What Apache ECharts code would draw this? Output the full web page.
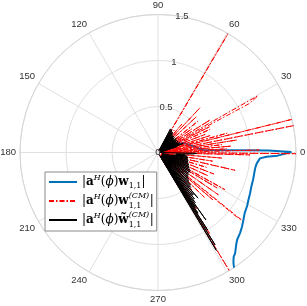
<!DOCTYPE html>
<html>
<head>
<meta charset="utf-8">
<script src="https://cdn.jsdelivr.net/npm/echarts@6/dist/echarts.min.js"></script>
<style>
html,body{margin:0;padding:0;background:#fff;}
#c{width:307px;height:306px;}
</style>
</head>
<body>
<div id="c"></div>
<script>
// Angle tick labels (degrees) and radius ticks
var angleTicks = [0, 30, 60, 90, 120, 150, 180, 210, 240, 270, 300, 330];
var radiusTicks = [0, 0.5, 1, 1.5];

// Series 1: |a^H(phi) w_{1,1}|  (phi in degrees, magnitude)
var bluePhi = [40, 21, 3.2, 1.0, 0.2, -0.6, -1.5, -2.2, -3.3, -4.5, -6.3, -9, -12.2, -16, -20, -24, -27.7, -31, -35, -38, -41.6, -44.5, -47.8, -50, -52.6, -54, -55, -55.8, -56.7];
var blueR   = [0.04, 0.295, 0.49, 1.2, 1.45, 1.45, 1.3, 1.18, 1.11, 1.09, 1.08, 1.07, 1.07, 1.075, 1.08, 1.095, 1.11, 1.13, 1.15, 1.18, 1.22, 1.25, 1.28, 1.32, 1.38, 1.40, 1.43, 1.46, 1.51];

// Series 2: |a^H(phi) w^{(CM)}_{1,1}|
var redPhi = [-61, -58.9, -58.3, -57.5, -56.8, -55.5, -54.5, -52, -51, -48, -47, -44, -43, -40.8, -40, -39.3, -38.9, -38, -35, -34, -31, -30, -29, -28, -25, -24, -21, -20, -17, -16, -13, -12.5, -11.5, -9, -8, -5, -4, -1.5, -1, -0.5, 0.3, 0.8, 1.4, 2, 3, 4, 5, 6, 7, 8, 9, 10, 11.2, 12, 13.9, 14.5, 15.6, 16.5, 18, 19, 21, 22, 24, 25, 26.5, 27.2, 28.2, 29.6, 30.5, 32, 33, 35, 36, 38, 39, 43, 44, 46.8, 47.5, 50, 51, 54, 55, 59.5, 60, 63];
var redR   = [0.03, 1.52, 0.06, 1.05, 0.08, 0.75, 0.05, 0.6, 0.04, 0.55, 0.05, 0.7, 0.05, 0.79, 0.04, 1.12, 1.17, 0.05, 0.8, 0.05, 0.75, 0.04, 0.83, 0.05, 0.6, 0.04, 0.65, 0.05, 0.55, 0.04, 0.86, 0.84, 0.05, 0.6, 0.04, 0.7, 0.03, 1.0, 0.05, 1.5, 1.52, 0.05, 1.1, 0.04, 0.75, 0.05, 0.8, 0.05, 0.7, 0.04, 0.87, 0.05, 1.52, 0.05, 1.52, 0.06, 0.78, 0.05, 0.6, 0.04, 0.55, 0.05, 0.62, 0.04, 0.63, 0.05, 1.13, 1.25, 0.05, 0.67, 0.04, 0.45, 0.04, 0.55, 0.05, 0.57, 0.04, 0.67, 0.05, 0.4, 0.04, 0.3, 0.03, 1.52, 0.04, 0.02];

// Series 3: |a^H(phi) w~^{(CM)}_{1,1}|
var blackPhi = [-62, -59.2, -58.8, -58.3, -57.9, -57.4, -57.0, -56.6, -56.2, -55.7, -55.2, -54.6, -54.1, -53.4, -52.8, -51.9, -51.2, -50.3, -49.6, -48.7, -47.9, -46.9, -46.0, -45.0, -44.0, -43.0, -41.9, -40.8, -39.7, -38.5, -37.4, -36.2, -35.0, -33.8, -32.6, -31.4, -30.2, -29.0, -27.8, -26.6, -25.4, -24.2, -23.0, -21.8, -20.6, -19.4, -18.2, -17.0, -15.8, -14.6, -13.4, -12.2, -11.0, -9.8, -8.6, -7.4, -6.2, -5.6, -4.5, -2.5, -1.2, -0.5, 5, 12,
  16, 17.5, 18.5, 19.8, 20.8, 22, 23, 24.2, 25.2, 26.4, 27.4, 28.6, 29.6, 30.8, 31.8, 33, 34, 35.2, 36.2, 37.4, 38.4, 39.6, 40.6, 41.8, 42.8, 44, 45, 46.2, 47.2, 48.4, 49.4, 50.6, 51.6, 52.8, 53.8, 55, 56, 57.2, 58.2, 59.2, 60.5, 62, 63];
var blackR = [0.02, 1.24, 0.06, 1.18, 0.08, 1.0, 0.06, 0.79, 0.08, 0.72, 0.05, 0.9, 0.07, 0.68, 0.06, 0.64, 0.08, 0.6, 0.05, 0.66, 0.06, 0.52, 0.08, 0.5, 0.06, 0.46, 0.05, 0.44, 0.07, 0.42, 0.06, 0.41, 0.07, 0.4, 0.05, 0.41, 0.07, 0.4, 0.06, 0.38, 0.07, 0.37, 0.05, 0.36, 0.07, 0.35, 0.06, 0.34, 0.09, 0.34, 0.05, 0.33, 0.15, 0.33, 0.18, 0.32, 0.2, 0.3, 0.2, 0.38, 0.42, 0.02, 0.02, 0.03,
  0.02, 0.22, 0.03, 0.29, 0.04, 0.24, 0.03, 0.26, 0.04, 0.23, 0.03, 0.25, 0.04, 0.22, 0.03, 0.24, 0.04, 0.23, 0.03, 0.25, 0.04, 0.22, 0.03, 0.24, 0.04, 0.23, 0.03, 0.25, 0.04, 0.24, 0.03, 0.25, 0.04, 0.26, 0.03, 0.27, 0.04, 0.28, 0.03, 0.29, 0.04, 0.29, 0.02];

var seriesNames = ['|aH(ϕ)w1,1|', '|aH(ϕ)w(CM)1,1|', '|aH(ϕ)w̃(CM)1,1|'];

function toPairs(phi, r) {
  var out = [];
  for (var i = 0; i < phi.length; i++) out.push([r[i], (phi[i] + 360) % 360]);
  return out;
}

var legendRich = {
  '0': '{n||}{b|a}{sup|H}{n|(}{i|ϕ}{n|)}{b|w}{sub|1,1}{n||}',
  '1': '{n||}{b|a}{sup|H}{n|(}{i|ϕ}{n|)}{b|w}{supz|(CM)}{subw|1,1}{n||}',
  '2': '{n||}{b|a}{sup|H}{n|(}{i|ϕ}{n|)}{b|w̃}{supz|(CM)}{subw|1,1}{n||}'
};

var serifFam = 'DejaVu Serif';
var chart = echarts.init(document.getElementById('c'), null, {renderer: 'canvas'});
var gridColor = '#e0e0e0';
var labelFont = {fontFamily: 'Liberation Sans', fontSize: 9.5, color: '#333'};
var LH = 18;

chart.setOption({
  animation: false,
  backgroundColor: '#fff',
  polar: [
    {center: [158, 152.5], radius: 138},
    {center: [158, 152.5], radius: 138}
  ],
  angleAxis: [
    {
      polarIndex: 0, type: 'value', min: 0, max: 360, interval: 30,
      startAngle: 0, clockwise: false,
      axisLine: {lineStyle: {color: '#d6d6d6', width: 1}},
      axisTick: {show: false},
      splitLine: {show: true, lineStyle: {color: gridColor, width: 1}},
      axisLabel: Object.assign({margin: 4, formatter: function (v) {
        return angleTicks.indexOf(v) >= 0 ? String(v) : '';
      }}, labelFont)
    },
    {
      polarIndex: 1, type: 'value', min: 0, max: 360, startAngle: 80, clockwise: false,
      axisLine: {show: false}, axisTick: {show: false}, axisLabel: {show: false}, splitLine: {show: false}
    }
  ],
  radiusAxis: [
    {
      polarIndex: 0, type: 'value', min: 0, max: 1.5, interval: 0.5,
      axisLine: {show: false}, axisTick: {show: false}, axisLabel: {show: false},
      splitLine: {show: true, lineStyle: {color: gridColor, width: 1}}
    },
    {
      polarIndex: 1, type: 'value', min: 0, max: 1.5, interval: 0.5, z: 10,
      axisLine: {show: false}, axisTick: {show: false}, splitLine: {show: false},
      axisLabel: Object.assign({margin: 0, align: 'center', verticalAlign: 'middle', showMinLabel: true, showMaxLabel: true,
        formatter: function (v) { return radiusTicks.indexOf(v) >= 0 ? String(v) : ''; }}, labelFont)
    }
  ],
  legend: {
    orient: 'vertical', left: 45, top: 172,
    itemWidth: 28, itemHeight: 18, itemGap: 1,
    padding: [1, 3, 2, 3],
    backgroundColor: '#fff', borderColor: '#8a8a8a', borderWidth: 1,
    itemStyle: {color: 'rgba(0,0,0,0)', borderWidth: 0, borderColor: 'rgba(0,0,0,0)'},
    data: seriesNames,
    formatter: function (name) { return legendRich[String(seriesNames.indexOf(name))]; },
    textStyle: {
      fontFamily: serifFam, fontSize: 12, color: '#000', lineHeight: LH,
      rich: {
        n: {fontFamily: serifFam, fontSize: 12, color: '#000', lineHeight: LH, verticalAlign: 'middle'},
        b: {fontFamily: serifFam, fontSize: 12, fontWeight: 'bold', color: '#000', lineHeight: LH, verticalAlign: 'middle'},
        i: {fontFamily: serifFam, fontSize: 12, fontStyle: 'italic', color: '#000', lineHeight: LH, verticalAlign: 'middle'},
        sup: {fontFamily: serifFam, fontSize: 8, fontStyle: 'italic', color: '#000', lineHeight: LH, verticalAlign: 'top', padding: [1, 0, 0, 0]},
        sub: {fontFamily: serifFam, fontSize: 8, color: '#000', lineHeight: LH, verticalAlign: 'bottom', padding: [0, 0, 1, 0]},
        supz: {fontFamily: serifFam, fontSize: 8, fontStyle: 'italic', color: '#000', lineHeight: LH, verticalAlign: 'top', width: 0},
        subw: {fontFamily: serifFam, fontSize: 8, color: '#000', lineHeight: LH, verticalAlign: 'bottom', width: 21, padding: [0, 0, 0, 0]}
      }
    }
  },
  series: [
    {
      name: seriesNames[0], type: 'line', coordinateSystem: 'polar', polarIndex: 0,
      data: toPairs(bluePhi, blueR), symbol: 'none', showSymbol: false, z: 2,
      itemStyle: {color: '#0072BD'},
      lineStyle: {color: '#0072BD', width: 2}
    },
    {
      name: seriesNames[1], type: 'line', coordinateSystem: 'polar', polarIndex: 0,
      data: toPairs(redPhi, redR), symbol: 'none', showSymbol: false, z: 3,
      itemStyle: {color: '#ff0000'},
      lineStyle: {color: '#ff0000', width: 1, type: [5, 2, 1.5, 2]}
    },
    {
      name: seriesNames[2], type: 'line', coordinateSystem: 'polar', polarIndex: 0,
      data: toPairs(blackPhi, blackR), symbol: 'none', showSymbol: false, z: 4,
      itemStyle: {color: '#000'},
      lineStyle: {color: '#000', width: 1}
    }
  ]
});
</script>
</body>
</html>
